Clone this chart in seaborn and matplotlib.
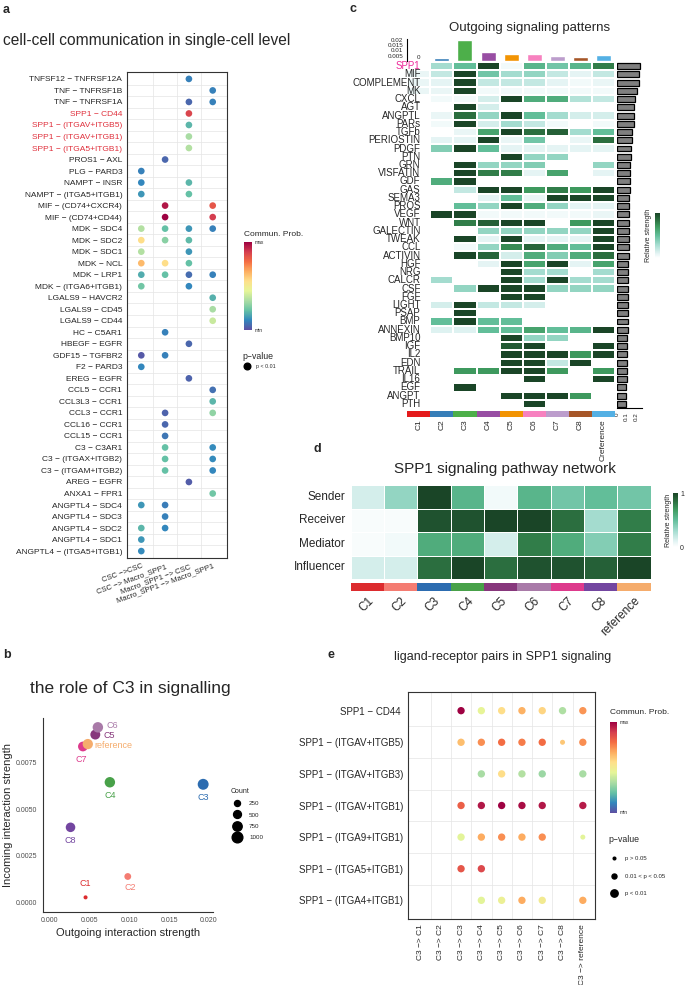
import numpy as np
import pandas as pd
import seaborn as sns
import matplotlib.pyplot as plt
from matplotlib.colors import LinearSegmentedColormap, ListedColormap, Normalize
from matplotlib.cm import ScalarMappable
from matplotlib.lines import Line2D

n = np.nan

# ---------------- panel a: bubble plot, single-cell level ----------------
a_targets = ['CSC ->CSC', 'CSC -> Macro_SPP1', 'Macro_SPP1 -> CSC', 'Macro_SPP1 -> Macro_SPP1']
a_pairs = ['TNFSF12 - TNFRSF12A', 'TNF - TNFRSF1B', 'TNF - TNFRSF1A', 'SPP1 - CD44',
           'SPP1 - (ITGAV+ITGB5)', 'SPP1 - (ITGAV+ITGB1)', 'SPP1 - (ITGA5+ITGB1)', 'PROS1 - AXL',
           'PLG - PARD3', 'NAMPT - INSR', 'NAMPT - (ITGA5+ITGB1)', 'MIF - (CD74+CXCR4)',
           'MIF - (CD74+CD44)', 'MDK - SDC4', 'MDK - SDC2', 'MDK - SDC1', 'MDK - NCL', 'MDK - LRP1',
           'MDK - (ITGA6+ITGB1)', 'LGALS9 - HAVCR2', 'LGALS9 - CD45', 'LGALS9 - CD44', 'HC - C5AR1',
           'HBEGF - EGFR', 'GDF15 - TGFBR2', 'F2 - PARD3', 'EREG - EGFR', 'CCL5 - CCR1',
           'CCL3L3 - CCR1', 'CCL3 - CCR1', 'CCL16 - CCR1', 'CCL15 - CCR1', 'C3 - C3AR1',
           'C3 - (ITGAX+ITGB2)', 'C3 - (ITGAM+ITGB2)', 'AREG - EGFR', 'ANXA1 - FPR1',
           'ANGPTL4 - SDC4', 'ANGPTL4 - SDC3', 'ANGPTL4 - SDC2', 'ANGPTL4 - SDC1',
           'ANGPTL4 - (ITGA5+ITGB1)']
a_highlight = ['SPP1 - CD44', 'SPP1 - (ITGAV+ITGB5)', 'SPP1 - (ITGAV+ITGB1)', 'SPP1 - (ITGA5+ITGB1)']
a_prob = [
    [n, n, 0.10, n], [n, n, n, 0.10], [n, n, 0.05, 0.10], [n, n, 0.87, n],
    [n, n, 0.20, n], [n, n, 0.33, n], [n, n, 0.35, n], [n, 0.05, n, n],
    [0.10, n, n, n], [0.11, n, 0.20, n], [0.14, n, 0.22, n], [n, 0.96, n, 0.83],
    [n, 1.00, n, 0.89], [0.35, 0.22, 0.14, 0.10], [0.56, 0.28, 0.21, n], [0.35, n, 0.14, n],
    [0.64, 0.56, 0.22, n], [0.18, 0.22, 0.06, 0.10], [0.24, n, 0.11, n], [n, n, n, 0.19],
    [n, n, n, 0.33], [n, n, n, 0.39], [n, 0.10, n, n], [n, n, 0.05, n],
    [0.02, 0.10, n, n], [0.11, n, n, n], [n, n, 0.04, n], [n, n, n, 0.07],
    [n, n, n, 0.20], [n, 0.04, n, 0.29], [n, 0.05, n, n], [n, 0.08, n, n],
    [n, 0.22, n, 0.12], [n, 0.22, n, 0.12], [n, 0.22, n, 0.11], [n, n, 0.03, n],
    [n, n, n, 0.24], [0.14, 0.09, n, n], [n, 0.10, n, n], [0.20, 0.11, n, n],
    [0.14, n, n, n], [0.12, n, n, n],
]

# ---------------- panel b: role of C3 ----------------
b_clusters = ['C1', 'C2', 'C3', 'C4', 'C5', 'C6', 'C7', 'C8', 'reference']
b_outgoing = [0.00456, 0.00984, 0.01927, 0.0076, 0.00578, 0.0061, 0.00423, 0.00268, 0.00484]
b_incoming = [0.00027, 0.00139, 0.00634, 0.00645, 0.00901, 0.0094, 0.00837, 0.00403, 0.0085]
b_count = [60, 350, 1050, 950, 850, 950, 820, 780, 920]
b_legend_counts = [250, 500, 750, 1000]

# ---------------- panel c: outgoing signaling patterns ----------------
c_clusters = ['C1', 'C2', 'C3', 'C4', 'C5', 'C6', 'C7', 'C8', 'Creference']
c_cluster_total = [0.0002, 0.003, 0.02, 0.0084, 0.0066, 0.0069, 0.0051, 0.0033, 0.0057]
c_pathways = ['SPP1', 'MIF', 'COMPLEMENT', 'MK', 'CXCL', 'AGT', 'ANGPTL', 'PARs', 'TGFb',
              'PERIOSTIN', 'PDGF', 'PTN', 'GRN', 'VISFATIN', 'GDF', 'GAS', 'SEMA3', 'PROS',
              'VEGF', 'WNT', 'GALECTIN', 'TWEAK', 'CCL', 'ACTIVIN', 'HGF', 'NRG', 'CALCR',
              'CSF', 'FGF', 'LIGHT', 'PSAP', 'BMP', 'ANNEXIN', 'BMP10', 'IGF', 'IL2', 'EDN',
              'TRAIL', 'IL16', 'EGF', 'ANGPT', 'PTH']
c_strength = [
    [0, 0.3, 0.5, 1.0, 0.05, 0.55, 0.45, 0.55, 0.8],
    [0.08, 0.2, 1.0, 0.45, 0.3, 0.35, 0.2, 0.1, 0.2],
    [0.08, 0.1, 1.0, 0.2, 0.2, 0.2, 0.1, 0.05, 0.08],
    [0.08, 0.08, 1.0, 0.05, 0.05, 0.05, 0.05, 0.05, 0.05],
    [0, 0.05, 0.05, 0.15, 1.0, 0.6, 0.6, 0.25, 0.2],
    [0, 0, 1.0, 0.15, 0, 0, 0, 0, 0],
    [0, 0.08, 0.85, 0.35, 1.0, 0.5, 0.3, 0.15, 0.15],
    [0, 0.05, 1.0, 0.15, 0.3, 0.2, 0.05, 0, 0.05],
    [0, 0, 0.08, 0.65, 1.0, 0.85, 0.9, 0.3, 0.5],
    [0, 0.1, 0.1, 1.0, 0.08, 0.45, 0, 0.08, 0.85],
    [0, 0.4, 1.0, 0.5, 0.1, 0.1, 0.1, 0.1, 0.1],
    [0, 0, 0, 0, 1.0, 0.35, 0.35, 0, 0],
    [0, 0, 1.0, 0.35, 0.35, 0.4, 0, 0, 0.35],
    [0, 0, 1.0, 0.8, 0.8, 0.1, 0.65, 0, 0.1],
    [0, 0.6, 1.0, 0, 0, 0, 0, 0, 0],
    [0, 0, 0.2, 1.0, 1.0, 0.7, 0.8, 0.7, 1.0],
    [0, 0, 0, 0.1, 0.5, 0.08, 1.0, 1.0, 1.0],
    [0, 0, 0.5, 0.35, 1.0, 0.6, 0.35, 0.1, 0.1],
    [0, 1.0, 1.0, 0.05, 0.05, 0.05, 0.05, 0.05, 0.08],
    [0, 0, 0.8, 0.9, 1.0, 1.0, 0, 0.7, 1.0],
    [0, 0, 0, 0.35, 0.35, 0.35, 0.35, 0.35, 1.0],
    [0, 0, 1.0, 0.1, 1.0, 0.1, 0.1, 0.1, 1.0],
    [0, 0, 0.05, 0.35, 0.75, 0.88, 0.6, 0.5, 1.0],
    [0, 0, 1.0, 0.88, 0.15, 0.6, 0.4, 0.6, 0.85],
    [0, 0, 0, 0.1, 1.0, 0.65, 1.0, 0.1, 0.65],
    [0, 0, 0, 0, 1.0, 0.3, 0.3, 0, 0.3],
    [0, 0.3, 0, 0, 1.0, 0.3, 1.0, 0.3, 0.3],
    [0, 0, 0.35, 1.0, 1.0, 1.0, 0.35, 0.35, 0.35],
    [0, 0, 0, 0, 1.0, 1.0, 0, 0, 0],
    [0, 0.15, 1.0, 0.2, 0.2, 0.15, 0, 0, 0],
    [0, 0, 1.0, 0, 0, 0, 0, 0, 0],
    [0, 0.5, 1.0, 0.5, 0.5, 0, 0, 0, 0],
    [0, 0.12, 0.12, 0.5, 0.5, 0.65, 0.5, 0.55, 1.0],
    [0, 0, 0, 0, 1.0, 0.35, 0.35, 0, 0],
    [0, 0, 0, 0, 0.92, 1.0, 0, 0, 1.0],
    [0, 0, 0, 0, 1.0, 1.0, 1.0, 0.7, 1.0],
    [0, 0, 0, 0, 1.0, 1.0, 0.2, 1.0, 0],
    [0, 0, 0.7, 0.7, 1.0, 1.0, 0.7, 0, 0.7],
    [0, 0, 0, 0, 0, 1.0, 0, 0, 1.0],
    [0, 0, 1.0, 0, 0, 0, 0, 0, 0],
    [0, 0, 0, 0, 1.0, 1.0, 1.0, 0.7, 0],
    [0, 0, 0, 0, 0, 1.0, 0, 0, 0],
]
c_pathway_total = [0.239, 0.228, 0.225, 0.211, 0.190, 0.179, 0.176, 0.175, 0.158, 0.151,
                   0.147, 0.144, 0.140, 0.137, 0.133, 0.130, 0.129, 0.126, 0.126, 0.123,
                   0.122, 0.122, 0.121, 0.121, 0.119, 0.118, 0.118, 0.117, 0.116, 0.115,
                   0.114, 0.112, 0.111, 0.109, 0.108, 0.106, 0.105, 0.102, 0.101, 0.098,
                   0.097, 0.090]

# ---------------- panel d: SPP1 network roles ----------------
d_roles = ['Sender', 'Receiver', 'Mediator', 'Influencer']
d_clusters = ['C1', 'C2', 'C3', 'C4', 'C5', 'C6', 'C7', 'C8', 'reference']
d_strength = [
    [0.15, 0.35, 1.0, 0.55, 0.05, 0.55, 0.45, 0.5, 0.45],
    [0.03, 0.03, 0.95, 0.95, 1.0, 1.0, 0.85, 0.3, 0.8],
    [0.03, 0.05, 0.6, 0.6, 0.15, 0.8, 0.6, 0.4, 0.8],
    [0.15, 0.15, 0.85, 1.0, 0.85, 0.95, 0.95, 0.9, 1.0],
]

# ---------------- panel e: SPP1 ligand-receptor pairs ----------------
e_targets = ['C3 -> C1', 'C3 -> C2', 'C3 -> C3', 'C3 -> C4', 'C3 -> C5', 'C3 -> C6',
             'C3 -> C7', 'C3 -> C8', 'C3 -> reference']
e_pairs = ['SPP1 - CD44 ', 'SPP1 - (ITGAV+ITGB5)', 'SPP1 - (ITGAV+ITGB3)', 'SPP1 - (ITGAV+ITGB1)',
           'SPP1 - (ITGA9+ITGB1)', 'SPP1 - (ITGA5+ITGB1)', 'SPP1 - (ITGA4+ITGB1)']
e_prob = [
    [n, n, 1.00, 0.45, 0.56, 0.66, 0.58, 0.34, 0.71],
    [n, n, 0.63, 0.72, 0.78, 0.75, 0.78, 0.61, 0.72],
    [n, n, n, 0.33, 0.56, 0.35, 0.31, n, 0.33],
    [n, n, 0.81, 0.96, 1.00, 0.98, 0.96, n, 0.95],
    [n, n, 0.44, 0.67, 0.72, 0.67, 0.72, n, 0.44],
    [n, n, 0.83, 0.86, n, n, n, n, n],
    [n, n, n, 0.44, 0.47, 0.67, 0.50, n, 0.67],
]
# 3 = p < 0.01, 2 = 0.01 < p < 0.05, 1 = p > 0.05
e_pval = [
    [n, n, 3, 3, 3, 3, 3, 3, 3],
    [n, n, 3, 3, 3, 3, 3, 2, 3],
    [n, n, n, 3, 3, 3, 3, n, 3],
    [n, n, 3, 3, 3, 3, 3, n, 3],
    [n, n, 3, 3, 3, 3, 3, n, 2],
    [n, n, 3, 3, n, n, n, n, n],
    [n, n, n, 3, 3, 3, 3, n, 3],
]
e_pval_labels = ['p > 0.05', '0.01 < p < 0.05', 'p < 0.01']

# ---------------- styles ----------------
sns.set_style('white')
plt.rcParams['font.family'] = ['Liberation Sans', 'DejaVu Sans']
plt.rcParams['axes.unicode_minus'] = True
plt.rcParams['axes.axisbelow'] = False

spectral = LinearSegmentedColormap.from_list(
    'spec10', ['#5E4FA2', '#3288BD', '#66C2A5', '#ABDDA4', '#E6F598',
               '#FEE08B', '#FDAE61', '#F46D43', '#D53E4F', '#9E0142'])
greens = LinearSegmentedColormap.from_list(
    'grn', [(0, '#FFFFFF'), (0.1, '#E4F4F4'), (0.3, '#A3DCCF'), (0.5, '#62BE9A'),
            (0.7, '#3E9A5E'), (0.85, '#2B6E3F'), (1, '#1A4527')])
scPalette = ['#E41A1C', '#377EB8', '#4DAF4A', '#984EA3', '#F29403', '#F781BF', '#BC9DCC',
             '#A65628', '#54B0E4']
clusterPal = ['#DC2B2E', '#F47C72', '#2C6CB0', '#48A149', '#87377C', '#A97AA8', '#DD3A8C',
              '#7346A0', '#F5AC6C']
gridCol = '#E5E5E5'
minus = '\u2212'


def dash(s):
    return s.replace('-', minus)


W, H = 685, 985
fig = plt.figure(figsize=(W / 100, H / 100), dpi=100)


def px_axes(x0, y0, x1, y1):
    return fig.add_axes([x0 / W, 1 - y1 / H, (x1 - x0) / W, (y1 - y0) / H])


def fx(x):
    return x / W


def fy(y):
    return 1 - y / H


# panel letters
for lab, x, y in [('a', 3, 10), ('c', 349, 9), ('b', 3, 655), ('d', 314, 449), ('e', 328, 655)]:
    fig.text(fx(x), fy(y), lab, fontsize=9, fontweight='bold', ha='left', va='center')

# ================= panel a =================
rows = []
for j, pair in enumerate(a_pairs):
    for i, t in enumerate(a_targets):
        v = a_prob[j][i]
        if not np.isnan(v):
            rows.append({'xi': i, 'yi': j, 'prob': v})
dfa = pd.DataFrame(rows)

axa = px_axes(127, 72, 227, 558)
for k in range(1, len(a_targets)):
    axa.axvline(k - 0.5, color=gridCol, lw=0.5, zorder=0)
for k in range(1, len(a_pairs)):
    axa.axhline(k - 0.5, color=gridCol, lw=0.5, zorder=0)
sns.scatterplot(data=dfa, x='xi', y='yi', hue='prob', palette=spectral, hue_norm=(0, 1),
                s=23, edgecolor='none', legend=False, ax=axa, zorder=3)
axa.set_xlim(-0.6, len(a_targets) - 0.4)
axa.set_ylim(len(a_pairs) - 0.4, -0.6)
axa.set_yticks(range(len(a_pairs)))
axa.set_yticklabels([dash(p) for p in a_pairs], fontsize=6)
for tl, p in zip(axa.get_yticklabels(), a_pairs):
    if p in a_highlight:
        tl.set_color('#E0303C')
axa.set_xticks(range(len(a_targets)))
axa.set_xticklabels([dash(t) for t in a_targets], fontsize=5.5, rotation=20,
                    ha='right', va='top', rotation_mode='anchor')
axa.tick_params(length=2, width=0.5, pad=1.5, color='#333333')
axa.set_xlabel('')
axa.set_ylabel('')
for sp in axa.spines.values():
    sp.set_color('#333333')
    sp.set_linewidth(0.8)
fig.text(fx(3), fy(41), 'cell-cell communication in single-cell level', fontsize=11.2,
         ha='left', va='center')

caxa = px_axes(244, 242, 252, 330)
cba = fig.colorbar(ScalarMappable(norm=Normalize(0, 1), cmap=spectral), cax=caxa, ticks=[])
cba.outline.set_visible(False)
fig.text(fx(244), fy(234), 'Commun. Prob.', fontsize=6, ha='left', va='center')
fig.text(fx(255), fy(243), 'max', fontsize=3.5, ha='left', va='center')
fig.text(fx(255), fy(330), 'min', fontsize=3.5, ha='left', va='center')
lega = fig.legend(handles=[Line2D([], [], ls='', marker='o', markersize=4.8, color='black',
                                  label='p < 0.01')],
                  title='p' + minus + 'value', loc='upper left',
                  bbox_to_anchor=(fx(242), fy(352)), frameon=False, fontsize=3.8,
                  title_fontsize=6.3, handletextpad=0.6, borderpad=0, borderaxespad=0)
lega._legend_box.align = 'left'

# ================= panel b =================
dfb = pd.DataFrame({'cluster': b_clusters, 'out': b_outgoing, 'inc': b_incoming,
                    'count': b_count})
axb = px_axes(42.7, 718, 213, 911.7)
sizeRange = (5.2, 64.6)
sizeNorm = (0, 1100)
sns.scatterplot(data=dfb, x='out', y='inc', hue='cluster', palette=clusterPal,
                size='count', sizes=sizeRange, size_norm=sizeNorm, edgecolor='none',
                legend=False, ax=axb)
b_offsets = {'C1': (0, 7, 'center', 'bottom'), 'C2': (2, -5, 'center', 'top'),
             'C3': (0, -6, 'center', 'top'), 'C4': (0, -6, 'center', 'top'),
             'C5': (6, -1, 'left', 'center'), 'C6': (6, 1, 'left', 'center'),
             'C7': (-1, -6, 'center', 'top'), 'C8': (0, -6, 'center', 'top'),
             'reference': (5, -1, 'left', 'center')}
for cl, xo, yi, col in zip(b_clusters, b_outgoing, b_incoming, clusterPal):
    dx, dy, ha, va = b_offsets[cl]
    axb.annotate(cl, (xo, yi), xytext=(dx, dy), textcoords='offset points', fontsize=6.5,
                 color=col, ha=ha, va=va)
axb.set_xlim(-0.0008, 0.0205)
axb.set_ylim(-0.0005, 0.0099)
axb.set_xticks([0, 0.005, 0.01, 0.015, 0.02])
axb.set_xticklabels(['0.000', '0.005', '0.010', '0.015', '0.020'])
axb.set_yticks([0, 0.0025, 0.005, 0.0075])
axb.set_yticklabels(['0.0000', '0.0025', '0.0050', '0.0075'])
axb.tick_params(labelsize=5, labelcolor='#4D4D4D', length=2, width=0.6, pad=2)
sns.despine(ax=axb)
for sp in ['left', 'bottom']:
    axb.spines[sp].set_linewidth(0.8)
    axb.spines[sp].set_color('#333333')
axb.set_xlabel('Outgoing interaction strength', fontsize=8, labelpad=3)
axb.set_ylabel('Incoming interaction strength', fontsize=8, labelpad=2)
fig.text(fx(130), fy(689), 'the role of C3 in signalling', fontsize=12.5, ha='center',
         va='center')
cnt_handles = [Line2D([], [], ls='', marker='o', color='black',
                      markersize=np.sqrt(sizeRange[0] + (c - sizeNorm[0]) / (sizeNorm[1] - sizeNorm[0])
                                         * (sizeRange[1] - sizeRange[0])),
                      label=str(c)) for c in b_legend_counts]
legb = fig.legend(handles=cnt_handles, title='Count', loc='upper left',
                  bbox_to_anchor=(fx(231), fy(788)), frameon=False, fontsize=4.5,
                  title_fontsize=5, handletextpad=0.9, borderpad=0, borderaxespad=0,
                  labelspacing=0.95)
legb._legend_box.align = 'left'

# ================= panel c =================
dfc = pd.DataFrame(c_strength, index=c_pathways, columns=c_clusters)
c_x0, c_x1, c_y0, c_y1 = 407.3, 615, 62, 408
axc = px_axes(c_x0, c_y0, c_x1, c_y1)
sns.heatmap(dfc, cmap=greens, vmin=0, vmax=1, cbar=False, linewidths=0.25, linecolor='white',
            xticklabels=False, yticklabels=True, ax=axc)
axc.set_axisbelow(False)
axc.tick_params(axis='y', length=0, labelsize=7, pad=-9.5)
axc.set_yticklabels(c_pathways, rotation=0, fontsize=7)
axc.get_yticklabels()[0].set_color('#EE2A9A')
axc.set_xlabel('')
axc.set_ylabel('')

# column totals on top
axct = px_axes(c_x0, 39, c_x1, c_y0 - 1)
sns.barplot(x=c_clusters, y=c_cluster_total, hue=c_clusters, palette=scPalette, legend=False,
            width=0.65, saturation=1, ax=axct)
axct.set_xlim(-0.5, len(c_clusters) - 0.5)
axct.set_ylim(0, 0.0205)
axct.set_yticks([0, 0.005, 0.01, 0.015, 0.02])
axct.set_yticklabels(['', '0.005', '0.01', '0.015', '0.02'])
axct.annotate('0', (0, 0), xytext=(0, 0.5), textcoords='offset points', fontsize=4.5,
              ha='center', va='bottom', annotation_clip=False)
axct.set_xticks([])
axct.tick_params(axis='y', labelsize=4.5, length=2, width=0.6, pad=1)
sns.despine(ax=axct, bottom=True)
axct.spines['left'].set_linewidth(0.8)
axct.spines['left'].set_color('black')

# row totals on the right
axcr = px_axes(617, c_y0, 642, c_y1)
sns.barplot(x=c_pathway_total, y=c_pathways, orient='h', color='#7F7F7F', saturation=1,
            edgecolor='black', linewidth=0.9, width=0.72, ax=axcr)
axcr.set_ylim(len(c_pathways) - 0.5, -0.5)
axcr.set_xlim(0, 0.26)
axcr.set_yticks([])
axcr.set_xticks([0, 0.1, 0.2])
axcr.set_xticklabels(['0', '0.1', '0.2'], rotation=90)
axcr.tick_params(axis='x', labelsize=4.5, length=2, width=0.6, pad=1)
axcr.set_ylabel('')
sns.despine(ax=axcr, left=True)
axcr.spines['bottom'].set_linewidth(0.8)
axcr.spines['bottom'].set_color('black')

# cluster colour bar at the bottom
axcb = px_axes(c_x0, 411, c_x1, 416.5)
sns.heatmap([list(range(len(c_clusters)))], cmap=ListedColormap(scPalette), cbar=False,
            xticklabels=c_clusters, yticklabels=False, ax=axcb)
axcb.tick_params(axis='x', length=0, labelsize=6, pad=2)
axcb.set_xticklabels(c_clusters, rotation=90, fontsize=6)

caxc = px_axes(655, 213, 660, 258)
cbc = fig.colorbar(ScalarMappable(norm=Normalize(0, 1), cmap=greens), cax=caxc, ticks=[])
cbc.outline.set_visible(False)
fig.text(fx(649), fy(235.5), 'Relative strength', fontsize=5, rotation=90, ha='center',
         va='center')
fig.text(fx(530), fy(28), 'Outgoing signaling patterns', fontsize=9.5, ha='center', va='center')

# ================= panel d =================
dfd = pd.DataFrame(d_strength, index=d_roles, columns=d_clusters)
d_x0, d_x1 = 350.7, 650.7
axd = px_axes(d_x0, 485, d_x1, 579)
sns.heatmap(dfd, cmap=greens, vmin=0, vmax=1, cbar=False, linewidths=0.4, linecolor='white',
            xticklabels=False, yticklabels=True, ax=axd)
axd.set_yticklabels(d_roles, rotation=0, fontsize=8.5)
axd.tick_params(axis='y', length=0, pad=4)
axdb = px_axes(d_x0, 583, d_x1, 590.5)
sns.heatmap([list(range(len(d_clusters)))], cmap=ListedColormap(clusterPal), cbar=False,
            xticklabels=d_clusters, yticklabels=False, ax=axdb)
axdb.set_xticklabels(d_clusters, rotation=45, ha='right', va='top', fontsize=8.5,
                     rotation_mode='anchor')
axdb.tick_params(axis='x', length=0, pad=3)
caxd = px_axes(673, 493, 678, 547)
cbd = fig.colorbar(ScalarMappable(norm=Normalize(0, 1), cmap=greens), cax=caxd, ticks=[0, 1])
cbd.outline.set_visible(False)
cbd.ax.tick_params(labelsize=5, length=0, pad=1.5)
fig.text(fx(668), fy(520), 'Relative strength', fontsize=5, rotation=90, ha='center',
         va='center')
fig.text(fx(505), fy(469), 'SPP1 signaling pathway network', fontsize=11, ha='center',
         va='center')

# ================= panel e =================
rows = []
for j, pair in enumerate(e_pairs):
    for i, t in enumerate(e_targets):
        v = e_prob[j][i]
        if not np.isnan(v):
            rows.append({'xi': i, 'yi': j, 'prob': v, 'pval': e_pval[j][i]})
dfe = pd.DataFrame(rows)
pvalSizes = {1: 3.7, 2: 13, 3: 28}
axe = px_axes(408.3, 691.7, 595, 919.3)
for k in range(1, len(e_targets)):
    axe.axvline(k - 0.5, color=gridCol, lw=0.5, zorder=0)
for k in range(1, len(e_pairs)):
    axe.axhline(k - 0.5, color=gridCol, lw=0.5, zorder=0)
sns.scatterplot(data=dfe, x='xi', y='yi', hue='prob', palette=spectral, hue_norm=(0, 1),
                size='pval', sizes=pvalSizes, edgecolor='none', legend=False, ax=axe, zorder=3)
axe.set_xlim(-0.6, len(e_targets) - 0.4)
axe.set_ylim(len(e_pairs) - 0.4, -0.6)
axe.set_yticks(range(len(e_pairs)))
axe.set_yticklabels([dash(p) for p in e_pairs], fontsize=7)
axe.set_xticks(range(len(e_targets)))
axe.set_xticklabels([dash(t) for t in e_targets], fontsize=6, rotation=90)
axe.tick_params(length=2, width=0.5, pad=1.5, color='#333333')
axe.set_xlabel('')
axe.set_ylabel('')
for sp in axe.spines.values():
    sp.set_color('#333333')
    sp.set_linewidth(0.8)
fig.text(fx(503), fy(657), 'ligand-receptor pairs in SPP1 signaling', fontsize=9,
         ha='center', va='center')
caxe = px_axes(610, 722, 617, 813)
cbe = fig.colorbar(ScalarMappable(norm=Normalize(0, 1), cmap=spectral), cax=caxe, ticks=[])
cbe.outline.set_visible(False)
fig.text(fx(610), fy(713), 'Commun. Prob.', fontsize=6, ha='left', va='center')
fig.text(fx(620), fy(723), 'max', fontsize=3.5, ha='left', va='center')
fig.text(fx(620), fy(813), 'min', fontsize=3.5, ha='left', va='center')
pv_handles = [Line2D([], [], ls='', marker='o', color='black', markersize=np.sqrt(pvalSizes[k + 1]),
                     label=lab) for k, lab in enumerate(e_pval_labels)]
lege = fig.legend(handles=pv_handles, title='p' + minus + 'value', loc='upper left',
                  bbox_to_anchor=(fx(608), fy(835)), frameon=False, fontsize=4.3,
                  title_fontsize=6.3, handletextpad=0.9, borderpad=0, borderaxespad=0,
                  labelspacing=2.05)
lege._legend_box.align = 'left'

fig.savefig('out.png', dpi=100)
